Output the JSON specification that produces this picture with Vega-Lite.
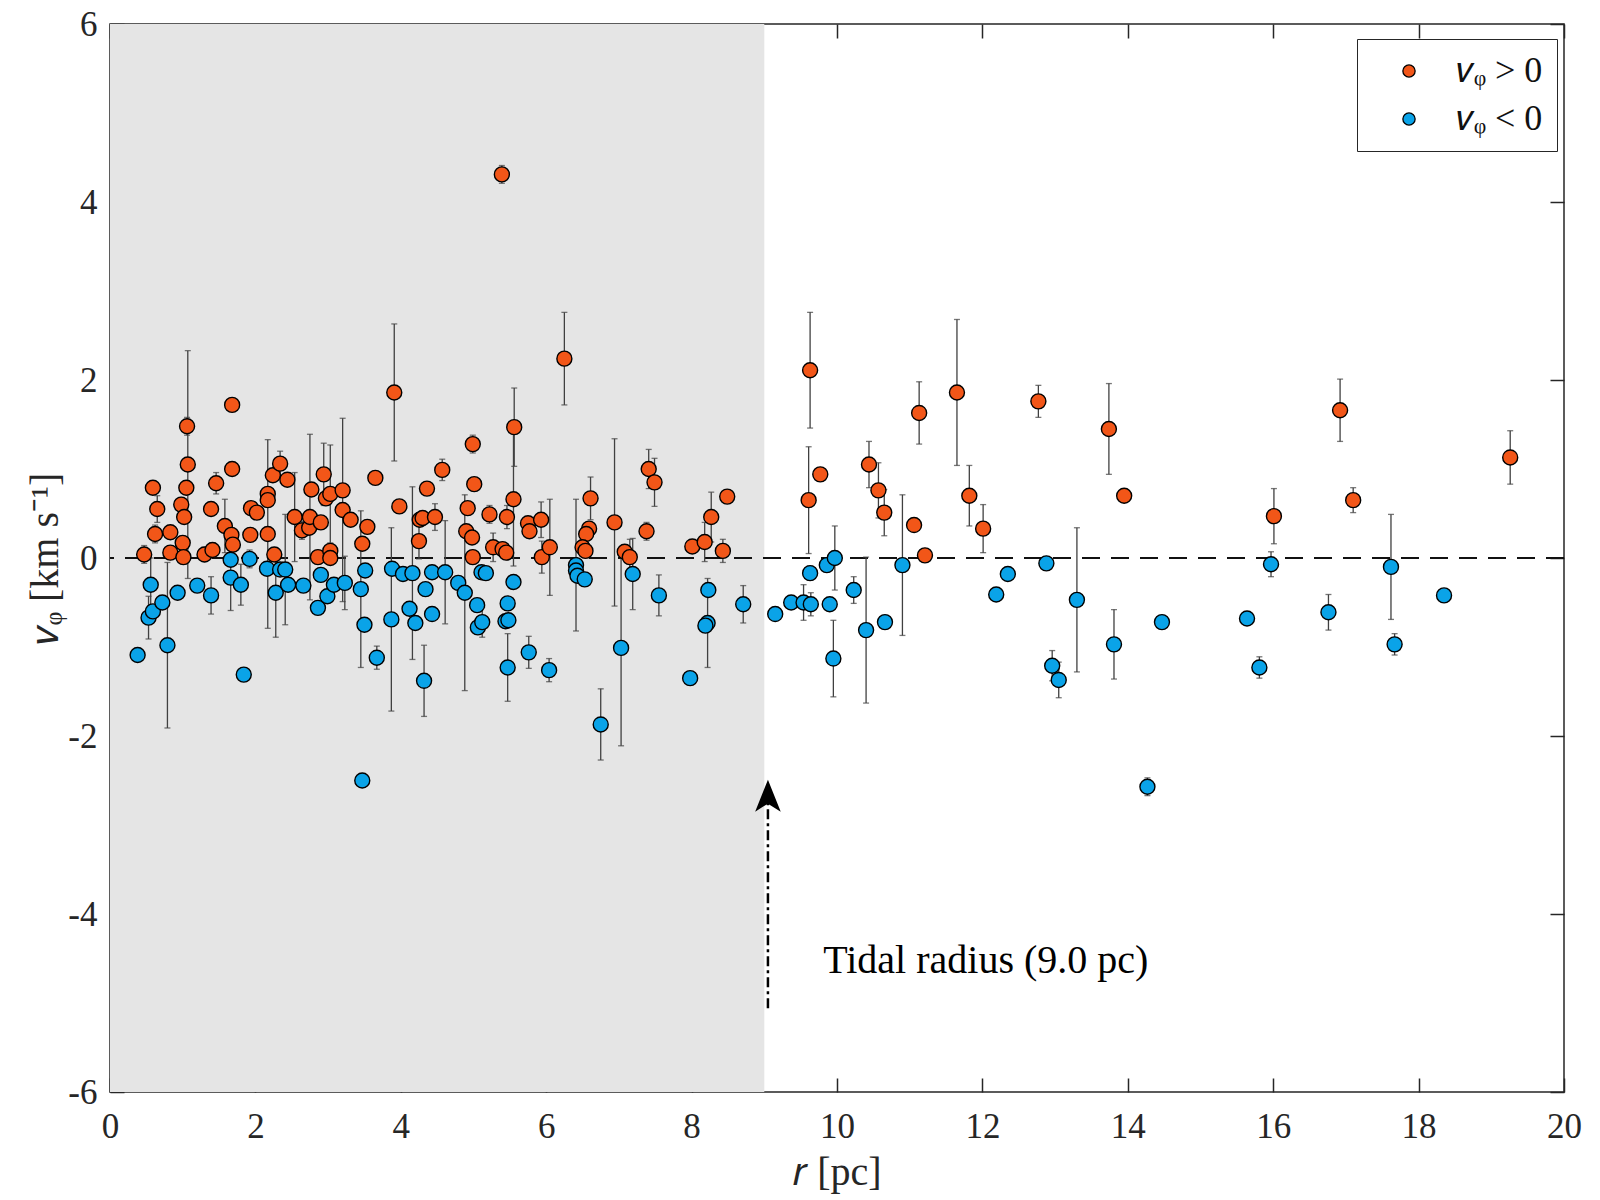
{
  "$schema": "https://vega.github.io/schema/vega-lite/v6.json",
  "width": 1454,
  "height": 1068,
  "autosize": {"type": "none"},
  "padding": {"left": 110, "top": 24, "right": 36, "bottom": 108},
  "background": "white",
  "config": {
    "view": {"stroke": "#262626", "strokeWidth": 1.5},
    "font": "Liberation Serif",
    "axis": {"grid": false, "domain": false, "tickColor": "#262626", "tickWidth": 1.5, "tickSize": -14, "labelColor": "#262626", "labelFont": "Liberation Serif", "labelFontSize": 35, "titleFont": "Liberation Serif", "titleFontSize": 40, "titleFontWeight": "normal", "titleColor": "#262626", "labelFlush": false, "labelOverlap": false}
  },
  "datasets": {
    "pts": [
      {"r":0.47,"v":0.04,"e":0.10,"s":"p"},{"r":0.59,"v":0.79,"e":0.05,"s":"p"},{"r":0.65,"v":0.55,"e":0.15,"s":"p"},{"r":0.62,"v":0.27,"e":0.10,"s":"p"},
      {"r":0.83,"v":0.29,"e":0.05,"s":"p"},{"r":0.83,"v":0.06,"e":0.05,"s":"p"},{"r":1.06,"v":1.48,"e":0.10,"s":"p"},{"r":1.07,"v":1.05,"e":1.28,"s":"p"},
      {"r":1.05,"v":0.79,"e":0.05,"s":"p"},{"r":0.98,"v":0.60,"e":0.08,"s":"p"},{"r":1.02,"v":0.46,"e":0.05,"s":"p"},{"r":1.00,"v":0.17,"e":0.05,"s":"p"},
      {"r":1.01,"v":0.01,"e":0.05,"s":"p"},{"r":1.68,"v":1.72,"e":0.06,"s":"p"},{"r":1.68,"v":1.00,"e":0.05,"s":"p"},{"r":1.46,"v":0.84,"e":0.12,"s":"p"},
      {"r":1.39,"v":0.55,"e":0.05,"s":"p"},{"r":1.30,"v":0.04,"e":0.08,"s":"p"},{"r":1.41,"v":0.09,"e":0.08,"s":"p"},{"r":1.58,"v":0.36,"e":0.30,"s":"p"},
      {"r":1.67,"v":0.26,"e":0.05,"s":"p"},{"r":1.69,"v":0.15,"e":0.05,"s":"p"},{"r":1.93,"v":0.26,"e":0.05,"s":"p"},{"r":1.94,"v":0.56,"e":0.05,"s":"p"},
      {"r":2.02,"v":0.51,"e":0.05,"s":"p"},{"r":2.17,"v":0.72,"e":0.05,"s":"p"},{"r":2.17,"v":0.65,"e":0.05,"s":"p"},{"r":2.17,"v":0.27,"e":1.06,"s":"p"},
      {"r":2.24,"v":0.93,"e":0.05,"s":"p"},{"r":2.34,"v":1.06,"e":0.14,"s":"p"},{"r":2.44,"v":0.88,"e":0.05,"s":"p"},{"r":2.26,"v":0.04,"e":0.05,"s":"p"},
      {"r":2.54,"v":0.46,"e":0.50,"s":"p"},{"r":2.64,"v":0.31,"e":0.10,"s":"p"},{"r":2.74,"v":0.34,"e":0.05,"s":"p"},{"r":2.75,"v":0.46,"e":0.93,"s":"p"},
      {"r":2.77,"v":0.77,"e":0.05,"s":"p"},{"r":2.94,"v":0.94,"e":0.35,"s":"p"},{"r":2.97,"v":0.67,"e":0.05,"s":"p"},{"r":3.03,"v":0.72,"e":0.55,"s":"p"},
      {"r":2.90,"v":0.40,"e":0.05,"s":"p"},{"r":2.86,"v":0.01,"e":0.05,"s":"p"},{"r":3.03,"v":0.08,"e":0.05,"s":"p"},{"r":3.03,"v":0.00,"e":0.05,"s":"p"},
      {"r":3.20,"v":0.76,"e":0.05,"s":"p"},{"r":3.20,"v":0.54,"e":1.03,"s":"p"},{"r":3.31,"v":0.43,"e":0.05,"s":"p"},{"r":3.47,"v":0.16,"e":0.05,"s":"p"},
      {"r":3.54,"v":0.35,"e":0.06,"s":"p"},{"r":3.91,"v":1.86,"e":0.77,"s":"p"},{"r":6.25,"v":2.24,"e":0.52,"s":"p"},{"r":3.65,"v":0.90,"e":0.05,"s":"p"},
      {"r":3.98,"v":0.58,"e":0.05,"s":"p"},{"r":4.26,"v":0.43,"e":0.05,"s":"p"},{"r":4.30,"v":0.45,"e":0.06,"s":"p"},{"r":4.25,"v":0.19,"e":0.20,"s":"p"},
      {"r":4.36,"v":0.78,"e":0.05,"s":"p"},{"r":4.47,"v":0.46,"e":0.15,"s":"p"},{"r":4.57,"v":0.99,"e":0.12,"s":"p"},{"r":4.99,"v":1.28,"e":0.10,"s":"p"},
      {"r":5.01,"v":0.83,"e":0.05,"s":"p"},{"r":4.92,"v":0.56,"e":0.05,"s":"p"},{"r":4.90,"v":0.30,"e":0.05,"s":"p"},{"r":4.98,"v":0.23,"e":0.05,"s":"p"},
      {"r":4.99,"v":0.01,"e":0.05,"s":"p"},{"r":5.22,"v":0.49,"e":0.10,"s":"p"},{"r":5.27,"v":0.12,"e":0.16,"s":"p"},{"r":5.40,"v":0.10,"e":0.05,"s":"p"},
      {"r":5.45,"v":0.06,"e":0.05,"s":"p"},{"r":5.46,"v":0.46,"e":0.13,"s":"p"},{"r":5.56,"v":1.47,"e":0.44,"s":"p"},{"r":5.55,"v":0.66,"e":0.75,"s":"p"},
      {"r":5.75,"v":0.39,"e":0.05,"s":"p"},{"r":5.77,"v":0.30,"e":0.05,"s":"p"},{"r":5.93,"v":0.43,"e":0.20,"s":"p"},{"r":5.94,"v":0.01,"e":0.18,"s":"p"},
      {"r":6.05,"v":0.12,"e":0.54,"s":"p"},{"r":6.61,"v":0.67,"e":0.24,"s":"p"},{"r":6.59,"v":0.33,"e":0.05,"s":"p"},{"r":6.55,"v":0.27,"e":0.05,"s":"p"},
      {"r":6.50,"v":0.12,"e":0.05,"s":"p"},{"r":6.54,"v":0.08,"e":0.05,"s":"p"},{"r":6.94,"v":0.40,"e":0.94,"s":"p"},{"r":7.08,"v":0.07,"e":0.05,"s":"p"},
      {"r":7.15,"v":0.01,"e":0.20,"s":"p"},{"r":7.41,"v":1.00,"e":0.22,"s":"p"},{"r":7.49,"v":0.85,"e":0.27,"s":"p"},{"r":7.38,"v":0.30,"e":0.10,"s":"p"},
      {"r":8.01,"v":0.13,"e":0.05,"s":"p"},{"r":8.18,"v":0.18,"e":0.22,"s":"p"},{"r":8.27,"v":0.46,"e":0.28,"s":"p"},{"r":8.49,"v":0.69,"e":0.05,"s":"p"},
      {"r":8.43,"v":0.08,"e":0.13,"s":"p"},{"r":9.63,"v":2.11,"e":0.65,"s":"p"},{"r":9.61,"v":0.65,"e":0.60,"s":"p"},{"r":9.77,"v":0.94,"e":0.06,"s":"p"},
      {"r":10.44,"v":1.05,"e":0.26,"s":"p"},{"r":10.57,"v":0.76,"e":0.31,"s":"p"},{"r":10.65,"v":0.51,"e":0.26,"s":"p"},{"r":11.13,"v":1.63,"e":0.35,"s":"p"},
      {"r":11.06,"v":0.37,"e":0.06,"s":"p"},{"r":11.21,"v":0.03,"e":0.05,"s":"p"},{"r":11.65,"v":1.86,"e":0.82,"s":"p"},{"r":11.82,"v":0.70,"e":0.34,"s":"p"},
      {"r":12.01,"v":0.33,"e":0.27,"s":"p"},{"r":12.77,"v":1.76,"e":0.18,"s":"p"},{"r":13.74,"v":1.45,"e":0.51,"s":"p"},{"r":13.95,"v":0.70,"e":0.05,"s":"p"},
      {"r":16.92,"v":1.66,"e":0.35,"s":"p"},{"r":16.01,"v":0.47,"e":0.31,"s":"p"},{"r":17.10,"v":0.65,"e":0.14,"s":"p"},{"r":19.26,"v":1.13,"e":0.30,"s":"p"},
      {"r":5.39,"v":4.31,"e":0.10,"s":"p"},
      {"r":0.38,"v":-1.09,"e":0.05,"s":"n"},{"r":0.56,"v":-0.30,"e":0.30,"s":"n"},{"r":0.53,"v":-0.67,"e":0.24,"s":"n"},{"r":0.59,"v":-0.60,"e":0.05,"s":"n"},
      {"r":0.72,"v":-0.50,"e":0.05,"s":"n"},{"r":0.79,"v":-0.98,"e":0.93,"s":"n"},{"r":0.93,"v":-0.39,"e":0.05,"s":"n"},{"r":1.20,"v":-0.31,"e":0.05,"s":"n"},
      {"r":1.39,"v":-0.42,"e":0.21,"s":"n"},{"r":1.66,"v":-0.02,"e":0.05,"s":"n"},{"r":1.66,"v":-0.22,"e":0.37,"s":"n"},{"r":1.80,"v":-0.30,"e":0.23,"s":"n"},
      {"r":1.84,"v":-1.31,"e":0.05,"s":"n"},{"r":1.92,"v":-0.01,"e":0.10,"s":"n"},{"r":2.16,"v":-0.12,"e":0.05,"s":"n"},{"r":2.34,"v":-0.13,"e":0.05,"s":"n"},
      {"r":2.41,"v":-0.13,"e":0.62,"s":"n"},{"r":2.28,"v":-0.39,"e":0.50,"s":"n"},{"r":2.45,"v":-0.30,"e":0.05,"s":"n"},{"r":2.66,"v":-0.31,"e":0.05,"s":"n"},
      {"r":2.90,"v":-0.19,"e":0.05,"s":"n"},{"r":2.86,"v":-0.56,"e":0.05,"s":"n"},{"r":2.99,"v":-0.43,"e":0.05,"s":"n"},{"r":3.08,"v":-0.30,"e":0.05,"s":"n"},
      {"r":3.23,"v":-0.28,"e":0.30,"s":"n"},{"r":3.45,"v":-0.35,"e":0.88,"s":"n"},{"r":3.51,"v":-0.14,"e":0.05,"s":"n"},{"r":3.50,"v":-0.75,"e":0.05,"s":"n"},
      {"r":3.47,"v":-2.50,"e":0.07,"s":"n"},{"r":3.67,"v":-1.12,"e":0.13,"s":"n"},{"r":3.88,"v":-0.12,"e":0.05,"s":"n"},{"r":4.03,"v":-0.18,"e":0.05,"s":"n"},
      {"r":4.16,"v":-0.17,"e":0.97,"s":"n"},{"r":3.87,"v":-0.69,"e":1.03,"s":"n"},{"r":4.12,"v":-0.57,"e":0.05,"s":"n"},{"r":4.20,"v":-0.73,"e":0.05,"s":"n"},
      {"r":4.32,"v":-1.38,"e":0.40,"s":"n"},{"r":4.34,"v":-0.35,"e":0.05,"s":"n"},{"r":4.43,"v":-0.16,"e":0.05,"s":"n"},{"r":4.43,"v":-0.63,"e":0.05,"s":"n"},
      {"r":4.61,"v":-0.16,"e":0.58,"s":"n"},{"r":4.79,"v":-0.28,"e":0.05,"s":"n"},{"r":4.88,"v":-0.39,"e":1.10,"s":"n"},{"r":5.05,"v":-0.53,"e":0.05,"s":"n"},
      {"r":5.06,"v":-0.78,"e":0.05,"s":"n"},{"r":5.12,"v":-0.72,"e":0.17,"s":"n"},{"r":5.11,"v":-0.16,"e":0.05,"s":"n"},{"r":5.17,"v":-0.17,"e":0.05,"s":"n"},
      {"r":5.55,"v":-0.27,"e":0.05,"s":"n"},{"r":5.47,"v":-0.51,"e":0.05,"s":"n"},{"r":5.44,"v":-0.71,"e":0.05,"s":"n"},{"r":5.48,"v":-0.70,"e":0.05,"s":"n"},
      {"r":5.47,"v":-1.23,"e":0.38,"s":"n"},{"r":5.76,"v":-1.06,"e":0.18,"s":"n"},{"r":6.04,"v":-1.26,"e":0.13,"s":"n"},{"r":6.41,"v":-0.08,"e":0.74,"s":"n"},
      {"r":6.41,"v":-0.14,"e":0.05,"s":"n"},{"r":6.43,"v":-0.20,"e":0.05,"s":"n"},{"r":6.53,"v":-0.24,"e":0.05,"s":"n"},{"r":7.03,"v":-1.01,"e":1.10,"s":"n"},
      {"r":6.75,"v":-1.87,"e":0.40,"s":"n"},{"r":7.19,"v":-0.18,"e":0.40,"s":"n"},{"r":7.55,"v":-0.42,"e":0.23,"s":"n"},{"r":7.98,"v":-1.35,"e":0.05,"s":"n"},
      {"r":8.23,"v":-0.36,"e":0.06,"s":"n"},{"r":8.22,"v":-0.73,"e":0.50,"s":"n"},{"r":8.19,"v":-0.76,"e":0.05,"s":"n"},{"r":8.71,"v":-0.52,"e":0.21,"s":"n"},
      {"r":9.15,"v":-0.63,"e":0.05,"s":"n"},{"r":9.37,"v":-0.50,"e":0.05,"s":"n"},{"r":9.54,"v":-0.50,"e":0.20,"s":"n"},{"r":9.64,"v":-0.52,"e":0.13,"s":"n"},
      {"r":9.63,"v":-0.17,"e":0.08,"s":"n"},{"r":9.90,"v":-0.52,"e":0.05,"s":"n"},{"r":9.95,"v":-1.13,"e":0.43,"s":"n"},{"r":9.86,"v":-0.08,"e":0.05,"s":"n"},
      {"r":9.97,"v":0.00,"e":0.36,"s":"n"},{"r":10.23,"v":-0.36,"e":0.15,"s":"n"},{"r":10.40,"v":-0.81,"e":0.82,"s":"n"},{"r":10.66,"v":-0.72,"e":0.05,"s":"n"},
      {"r":10.90,"v":-0.08,"e":0.79,"s":"n"},{"r":12.19,"v":-0.41,"e":0.05,"s":"n"},{"r":12.35,"v":-0.18,"e":0.05,"s":"n"},{"r":12.88,"v":-0.06,"e":0.05,"s":"n"},
      {"r":13.30,"v":-0.47,"e":0.81,"s":"n"},{"r":13.81,"v":-0.97,"e":0.39,"s":"n"},{"r":12.96,"v":-1.21,"e":0.17,"s":"n"},{"r":13.05,"v":-1.37,"e":0.20,"s":"n"},
      {"r":14.47,"v":-0.72,"e":0.05,"s":"n"},{"r":14.27,"v":-2.57,"e":0.10,"s":"n"},{"r":15.97,"v":-0.07,"e":0.14,"s":"n"},{"r":15.64,"v":-0.68,"e":0.05,"s":"n"},
      {"r":15.81,"v":-1.23,"e":0.12,"s":"n"},{"r":16.76,"v":-0.61,"e":0.20,"s":"n"},{"r":17.62,"v":-0.10,"e":0.59,"s":"n"},{"r":17.67,"v":-0.97,"e":0.12,"s":"n"},
      {"r":18.35,"v":-0.42,"e":0.05,"s":"n"}
    ]
  },
  "layer": [
    {
      "data": {"values": [{"a": 0, "b": 9}]},
      "mark": {"type": "rect", "color": "#e5e5e5"},
      "encoding": {
        "x": {"field": "a", "type": "quantitative", "scale": {"domain": [0, 20], "nice": false, "zero": false},
              "axis": {"orient": "top", "labels": false, "title": null, "values": [0,2,4,6,8,10,12,14,16,18,20]}},
        "x2": {"field": "b"}
      }
    },
    {
      "data": {"values": [{"z": 0}]},
      "mark": {"type": "rule", "strokeDash": [18, 11], "strokeWidth": 2, "color": "#111111"},
      "encoding": {
        "y": {"field": "z", "type": "quantitative", "scale": {"domain": [-6, 6], "nice": false},
              "axis": {"orient": "right", "labels": false, "title": null, "values": [-6,-4,-2,0,2,4,6]}}
      }
    },
    {
      "data": {"name": "pts"},
      "mark": {"type": "errorbar", "color": "#404040", "thickness": 1.3, "ticks": {"size": 6, "thickness": 1.3}},
      "encoding": {
        "x": {"field": "r", "type": "quantitative", "axis": null},
        "y": {"field": "v", "type": "quantitative", "axis": null},
        "yError": {"field": "e"}
      }
    },
    {
      "data": {"name": "pts"},
      "mark": {"type": "point", "shape": "circle", "filled": true, "size": 225, "stroke": "black", "strokeWidth": 1.4, "opacity": 1},
      "encoding": {
        "x": {"field": "r", "type": "quantitative",
              "axis": {"orient": "bottom", "title": "𝑟 [pc]", "values": [0,2,4,6,8,10,12,14,16,18,20], "labelPadding": 31, "titlePadding": 8}},
        "y": {"field": "v", "type": "quantitative",
              "axis": {"orient": "left", "title": "𝑣ᵩ [km s⁻¹]", "values": [-6,-4,-2,0,2,4,6], "labelPadding": 27, "titlePadding": 2,
                       "labelExpr": "datum.value < 0 ? '-' + (-datum.value) : '' + datum.value"}},
        "color": {"field": "s", "type": "nominal",
                  "scale": {"domain": ["p", "n"], "range": ["#F25618", "#0AA3E8"]},
                  "legend": {"orient": "none", "legendX": 1247, "legendY": 15, "title": null,
                             "labelExpr": "datum.value == 'p' ? '𝑣ᵩ > 0' : '𝑣ᵩ < 0'",
                             "labelFont": "Liberation Serif", "labelFontSize": 36, "labelColor": "#111111",
                             "symbolType": "circle", "symbolSize": 150, "symbolStrokeColor": "black", "symbolStrokeWidth": 1.3,
                             "strokeColor": "#262626", "fillColor": "white", "padding": 14, "rowPadding": 12, "labelOffset": 30,
                             "symbolOffset": 20, "labelLimit": 300}}
      }
    },
    {
      "data": {"values": [{"r": 9.05, "v1": -5.06, "v2": -2.62}]},
      "mark": {"type": "rule", "strokeDash": [10, 4, 3, 4], "strokeWidth": 2.5, "color": "black"},
      "encoding": {
        "x": {"field": "r", "type": "quantitative", "axis": null},
        "y": {"field": "v1", "type": "quantitative", "axis": null},
        "y2": {"field": "v2"}
      }
    },
    {
      "data": {"values": [{"r": 9.05, "v": -2.67}]},
      "mark": {"type": "point", "shape": "M0,-1L0.8,1L0,0.5L-0.8,1Z", "filled": true, "size": 1024, "color": "black", "opacity": 1},
      "encoding": {
        "x": {"field": "r", "type": "quantitative", "axis": null},
        "y": {"field": "v", "type": "quantitative", "axis": null}
      }
    },
    {
      "data": {"values": [{"r": 9.81, "v": -4.66, "t": "Tidal radius (9.0 pc)"}]},
      "mark": {"type": "text", "align": "left", "baseline": "alphabetic", "font": "Liberation Serif", "fontSize": 40, "color": "black"},
      "encoding": {
        "x": {"field": "r", "type": "quantitative", "axis": null},
        "y": {"field": "v", "type": "quantitative", "axis": null},
        "text": {"field": "t"}
      }
    }
  ],
  "resolve": {"axis": {"x": "independent", "y": "independent"}}
}
